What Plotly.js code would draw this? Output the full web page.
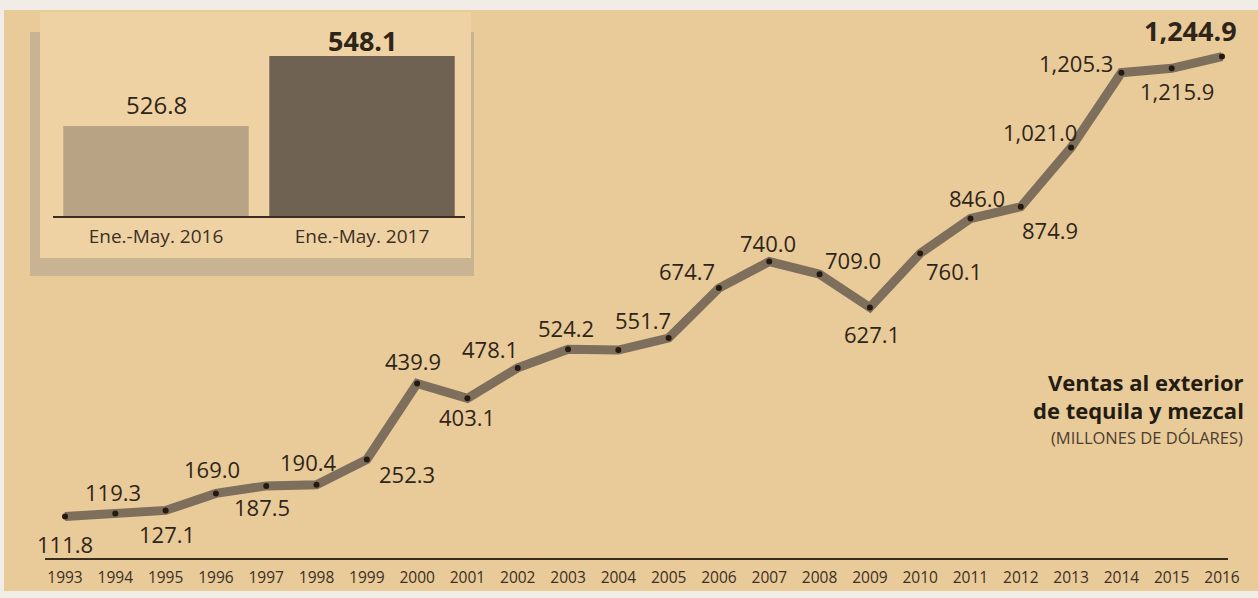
<!DOCTYPE html>
<html><head><meta charset="utf-8">
<script src="https://cdn.plot.ly/plotly-3.0.1.min.js"></script>
<style>html,body{margin:0;padding:0;background:#f1ede6;} #chart{width:1258px;height:598px;}</style>
</head><body><div id="chart"></div>
<script>
// ---- data ----
const years = [1993,1994,1995,1996,1997,1998,1999,2000,2001,2002,2003,2004,2005,2006,2007,2008,2009,2010,2011,2012,2013,2014,2015,2016];
// 2004 has no printed label; value estimated from the line position
const sales = [111.8,119.3,127.1,169.0,187.5,190.4,252.3,439.9,403.1,478.1,524.2,522.0,551.7,674.7,740.0,709.0,627.1,760.1,846.0,874.9,1021.0,1205.3,1215.9,1244.9];
const salesLabels = ["111.8","119.3","127.1","169.0","187.5","190.4","252.3","439.9","403.1","478.1","524.2",null,"551.7","674.7","740.0","709.0","627.1","760.1","846.0","874.9","1,021.0","1,205.3","1,215.9","1,244.9"];
const yearLabels = years.map(String);

const periods = ["Ene.-May. 2016","Ene.-May. 2017"];
const periodSales = [526.8, 548.1];
const periodLabels = ["526.8","548.1"];

const titleLine1 = "Ventas al exterior";
const titleLine2 = "de tequila y mezcal";
const unitsLine = "(MILLONES DE DÓLARES)";

// ---- styling / placement (pixels) ----
const W = 1258, H = 598;
const px = x => x / W;
const py = y => 1 - y / H;
const labelOffsets = [[0,27],[-2,-22],[1,24],[-4,-24],[-4,21],[-8,-23],[40,14],[-4,-22],[0,19],[-28,-19],[-2,-21],[0,0],[-26,-18],[-32,-17],[-1,-19],[33,-14],[2,27],[34,18],[7,-21],[29,23],[-31,-15],[-45,-10],[5,23],[-32,-26]];
const ink = '#2e2519';
const FONT = 'Open Sans, Noto Sans, sans-serif';

const annotations = [];
salesLabels.forEach((t, i) => {
  if (t === null) return;
  const last = i === salesLabels.length - 1;
  annotations.push({
    xref: 'x', yref: 'y', x: years[i], y: sales[i], text: last ? '<b>' + t + '</b>' : t,
    showarrow: false, xanchor: 'center', yanchor: 'middle',
    xshift: labelOffsets[i][0], yshift: -labelOffsets[i][1],
    font: {family: FONT, size: last ? 27 : 22, color: ink}
  });
});
const barShift = [22, 16];
periodLabels.forEach((t, i) => {
  annotations.push({
    xref: 'x2', yref: 'y2', x: periods[i], y: periodSales[i], text: i === 1 ? '<b>' + t + '</b>' : t,
    showarrow: false, xanchor: 'center', yanchor: 'middle', yshift: barShift[i],
    font: {family: FONT, size: i === 1 ? 27 : 24, color: ink}
  });
});
annotations.push({xref:'paper',yref:'paper',x:px(1246),y:py(382),xanchor:'right',yanchor:'middle',showarrow:false,
  text:'<b>'+titleLine1+'</b>',font:{family:FONT,size:22,color:'#231c13'}});
annotations.push({xref:'paper',yref:'paper',x:px(1246),y:py(410),xanchor:'right',yanchor:'middle',showarrow:false,
  text:'<b>'+titleLine2+'</b>',font:{family:FONT,size:22,color:'#231c13'}});
annotations.push({xref:'paper',yref:'paper',x:px(1245),y:py(437),xanchor:'right',yanchor:'middle',showarrow:false,
  text:unitsLine,font:{family:FONT,size:16.5,color:'#4a3e30'}});

const shapes = [
  // newsprint
  {type:'rect',xref:'paper',yref:'paper',layer:'below',x0:px(4),x1:px(1258),y0:py(591),y1:py(10),line:{width:0},fillcolor:'#e9ca99'},
  // inset shadow
  {type:'rect',xref:'paper',yref:'paper',layer:'below',x0:px(30),x1:px(474),y0:py(276),y1:py(32),line:{width:0},fillcolor:'#c8b392'},
  // inset panel
  {type:'rect',xref:'paper',yref:'paper',layer:'below',x0:px(40),x1:px(471),y0:py(258),y1:py(12),line:{width:0},fillcolor:'#efd2a4'}
];

const traces = [
  {type:'scatter', mode:'lines', x: years, y: sales, xaxis:'x', yaxis:'y',
   line:{color:'#7e6e5c', width:9}, hoverinfo:'skip', showlegend:false},
  {type:'scatter', mode:'markers', x: years, y: sales, xaxis:'x', yaxis:'y',
   marker:{color:'#241a12', size:6}, hoverinfo:'skip', showlegend:false},
  {type:'bar', x: periods, y: periodSales, xaxis:'x2', yaxis:'y2',
   marker:{color:['#b8a384','#6f6252'], line:{width:0}}, hoverinfo:'skip', showlegend:false}
];

const layout = {
  width: W, height: H,
  margin: {l:0, r:0, t:0, b:0},
  paper_bgcolor: '#f1ede6', plot_bgcolor: 'rgba(0,0,0,0)',
  showlegend: false,
  bargap: 0.1,
  xaxis: {domain:[px(45), px(1228)], range:[1992.6024, 2016.1193], anchor:'y',
    tickmode:'array', tickvals: years, ticktext: yearLabels, ticks:'', ticklabelstandoff: 5,
    showline:true, linecolor:'#3a2d20', linewidth:1.5, showgrid:false, zeroline:false, fixedrange:true,
    tickfont:{family:FONT, size:15.5, color:'#3b3024'}},
  yaxis: {domain:[py(558), py(20)], range:[9.85, 1335], anchor:'x', visible:false, fixedrange:true},
  xaxis2: {domain:[px(53), px(465)], anchor:'y2', type:'category', ticks:'', ticklabelstandoff: 3,
    showline:true, linecolor:'#3a2d20', linewidth:1.5, showgrid:false, zeroline:false, fixedrange:true,
    tickfont:{family:FONT, size:19, color:'#3b3024'}},
  yaxis2: {domain:[py(216), py(20)], range:[499.4, 559.1], anchor:'x2', visible:false, fixedrange:true},
  shapes: shapes,
  annotations: annotations
};

Plotly.newPlot('chart', traces, layout, {staticPlot:true, displayModeBar:false});
</script></body></html>
